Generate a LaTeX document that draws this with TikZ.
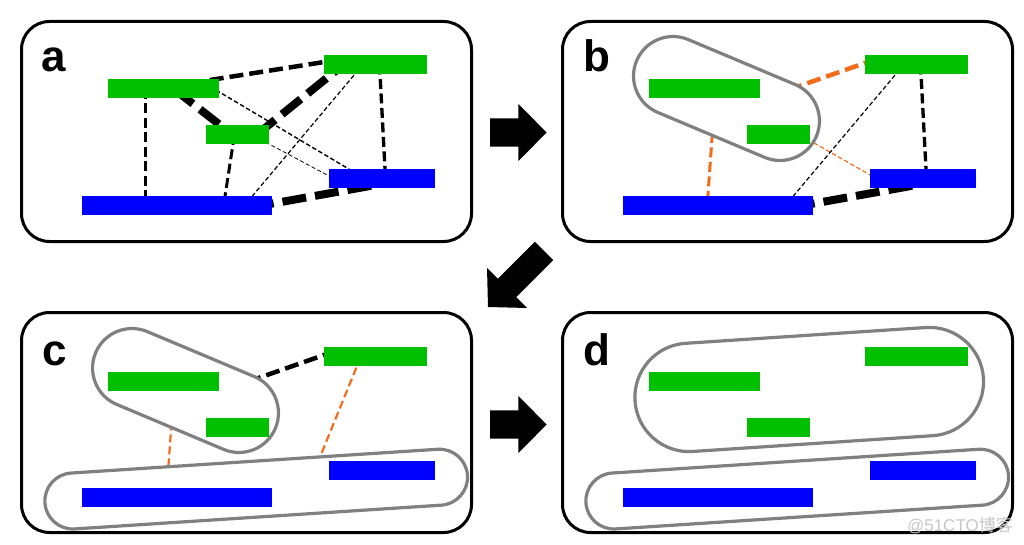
\documentclass[tikz,border=0pt]{standalone}
\usepackage{fontspec}
\setmainfont{Liberation Sans}
\newfontfamily\cjkfont{Noto Sans CJK SC}
\usetikzlibrary{calc,shapes.misc}
\pgfdeclarelayer{bg}
\pgfsetlayers{bg,main}
\definecolor{grn}{RGB}{0,192,0}
\definecolor{blu}{RGB}{0,0,255}
\definecolor{org}{RGB}{242,108,28}
\definecolor{grp}{RGB}{128,128,128}
\tikzset{
  gbar/.style={rectangle, fill=grn, minimum height=19pt, inner sep=0pt, outer sep=0pt},
  bbar/.style={rectangle, fill=blu, minimum height=19pt, inner sep=0pt, outer sep=0pt},
  grpbox/.style={rounded rectangle, draw=grp, line width=3.2pt, fill=white, inner sep=0pt},
  panel/.style={draw=black, line width=3pt, rounded corners=28pt},
  lbl/.style={font=\bfseries\fontsize{44}{44}\selectfont, anchor=base west, inner sep=0pt},
  lhair/.style={line width=0.8pt, dash pattern=on 4pt off 2.5pt},
  lthin/.style={line width=1.2pt, dash pattern=on 4.5pt off 2.5pt},
  lorg/.style={line width=2.2pt, dash pattern=on 8pt off 4pt, draw=org},
  lmed/.style={line width=3pt, dash pattern=on 10pt off 4.5pt},
  lthick/.style={line width=4.5pt, dash pattern=on 14pt off 6pt},
  lheavy/.style={line width=8pt, dash pattern=on 24pt off 9pt},
  bigarrow/.style={fill=black},
}
\begin{document}
\begin{tikzpicture}[x=1pt, y=-1pt]
\useasboundingbox (0,0) rectangle (1024,545);

% ---------- panel a ----------
\begin{scope}
  \draw[panel] (21.5,21.5) rectangle (471.5,241.5);
  \node[lbl] (la) at (41,72) {a};
  \node[gbar, minimum width=111pt] (g1a) at (163.5,89) {};
  \node[gbar, minimum width=63pt]  (g2a) at (237.5,135) {};
  \node[gbar, minimum width=103pt] (g3a) at (375.5,64.5) {};
  \node[bbar, minimum width=190pt] (b1a) at (177,205.5) {};
  \node[bbar, minimum width=106pt] (b2a) at (382,178.5) {};
\end{scope}

% ---------- panel b ----------
\begin{scope}[shift={(541,0)}]
  \draw[panel] (21.5,21.5) rectangle (471.5,241.5);
  \node[lbl] (lb) at (42,72) {b};
  \node[grpbox, minimum width=195pt, minimum height=79pt, rotate=-22.8] (s1b) at (185.5,98.5) {};
  \node[gbar, minimum width=111pt] (g1b) at (163.5,89) {};
  \node[gbar, minimum width=63pt]  (g2b) at (237.5,135) {};
  \node[gbar, minimum width=103pt] (g3b) at (375.5,64.5) {};
  \node[bbar, minimum width=190pt] (b1b) at (177,205.5) {};
  \node[bbar, minimum width=106pt] (b2b) at (382,178.5) {};
\end{scope}

% ---------- panel c ----------
\begin{scope}[shift={(0,292)}]
  \draw[panel] (21.5,20.5) rectangle (471.5,240.5);
  \node[lbl] (lc) at (42,73) {c};
  \node[grpbox, minimum width=195pt, minimum height=79pt, rotate=-22.8] (s1c) at (185.5,98.5) {};
  \node[grpbox, minimum width=423.5pt, minimum height=56pt, rotate=3.71] (s2c) at (256.2,197.1) {};
  \node[gbar, minimum width=111pt] (g1c) at (163.5,89) {};
  \node[gbar, minimum width=63pt]  (g2c) at (237.5,135) {};
  \node[gbar, minimum width=103pt] (g3c) at (375.5,64.5) {};
  \node[bbar, minimum width=190pt] (b1c) at (177,205.5) {};
  \node[bbar, minimum width=106pt] (b2c) at (382,178.5) {};
\end{scope}

% ---------- panel d ----------
\begin{scope}[shift={(541,292)}]
  \draw[panel] (21.5,20.5) rectangle (471.5,240.5);
  \node[lbl] (ld) at (42,73) {d};
  \node[grpbox, minimum width=349.2pt, minimum height=108.4pt, rotate=3.76] (s3d) at (268.2,97.5) {};
  \node[grpbox, minimum width=423.5pt, minimum height=56pt, rotate=3.71] (s4d) at (256.2,197.1) {};
  \node[gbar, minimum width=111pt] (g1d) at (163.5,89) {};
  \node[gbar, minimum width=63pt]  (g2d) at (237.5,135) {};
  \node[gbar, minimum width=103pt] (g3d) at (375.5,64.5) {};
  \node[bbar, minimum width=190pt] (b1d) at (177,205.5) {};
  \node[bbar, minimum width=106pt] (b2d) at (382,178.5) {};
\end{scope}

% ---------- connectors ----------
\begin{pgfonlayer}{bg}
  % panel a
  \draw[lthick] ($(g1a)+(26.5,-5.8)$) -- ($(g3a)+(-35.5,-5)$);
  \draw[lheavy] ($(g1a)+(10.5,0)$) -- ($(g2a)+(-4.7,0)$);
  \draw[lheavy] ($(g2a)+(18.9,0)$) -- ($(g3a)+(-32,0)$);
  \draw[lmed] ($(g1a)+(-18.5,0)$) -- ($(b1a)+(-32,0)$);
  \draw[lmed] ($(g2a)+(-3.1,0)$) -- ($(b1a)+(46.6,0)$);
  \draw[lthin] ($(g3a)+(-12.5,0)$) -- ($(b1a)+(67.4,0)$);
  \draw[lmed, line width=3.3pt] ($(g3a)+(4,0)$) -- ($(b2a)+(3.5,0)$);
  \draw[lthin, line width=1.4pt] ($(g1a)+(46.5,-2.5)$) -- ($(b2a)+(-12,3.1)$);
  \draw[lhair] ($(g2a)+(22.5,4.2)$) -- ($(b2a)+(-37,6)$);
  \draw[lheavy] ($(b1a)+(73,2.1)$) -- ($(b2a)+(18,2.1)$);
  % panel b
  \draw[lthick, draw=org] ($(s1b)+(43,-2)$) -- ($(g3b)+(-35.5,-7.1)$);
  \draw[lmed, draw=org] ($(s1b)+(-13.1,20)$) -- ($(b1b)+(-10.8,0)$);
  \draw[lthin, draw=org] ($(s1b)+(63,30.5)$) -- ($(b2b)+(-37,5.5)$);
  \draw[lthin] ($(g3b)+(-12.5,0)$) -- ($(b1b)+(67.4,0)$);
  \draw[lmed, line width=3.3pt] ($(g3b)+(4,0)$) -- ($(b2b)+(3.5,0)$);
  \draw[lheavy] ($(b1b)+(73,2.1)$) -- ($(b2b)+(18,2.1)$);
  % panel c
  \draw[lthick] ($(s1c)+(43,-2)$) -- ($(g3c)+(-35.5,-7.1)$);
  \draw[lorg] ($(s1c)+(-13.1,20)$) -- ($(s2c)+(-90,8.4)$);
  \draw[lorg] ($(g3c)+(-14.6,0)$) -- ($(s2c)+(50.7,0)$);
\end{pgfonlayer}

% ---------- big arrows ----------
\fill[bigarrow] (490,118.3) -- (518.3,118.3) -- (518.3,104) -- (546.7,132.5)
  -- (518.3,161) -- (518.3,146.7) -- (490,146.7) -- cycle;
\fill[bigarrow] (490,410.3) -- (518.3,410.3) -- (518.3,396) -- (546.7,424.5)
  -- (518.3,453) -- (518.3,438.7) -- (490,438.7) -- cycle;
\begin{scope}[shift={(544,251)}, rotate=225]
  \fill[bigarrow] (0,-13) -- (52.3,-13) -- (52.3,-28.3) -- (79.2,0)
    -- (52.3,28.3) -- (52.3,13) -- (0,13) -- cycle;
\end{scope}

% ---------- watermark ----------
\node[anchor=base east, inner sep=0pt, text=black!22, font=\fontsize{17}{17}\selectfont] (wm) at (1013,531) {@51CTO\cjkfont 博客};
\end{tikzpicture}
\end{document}
